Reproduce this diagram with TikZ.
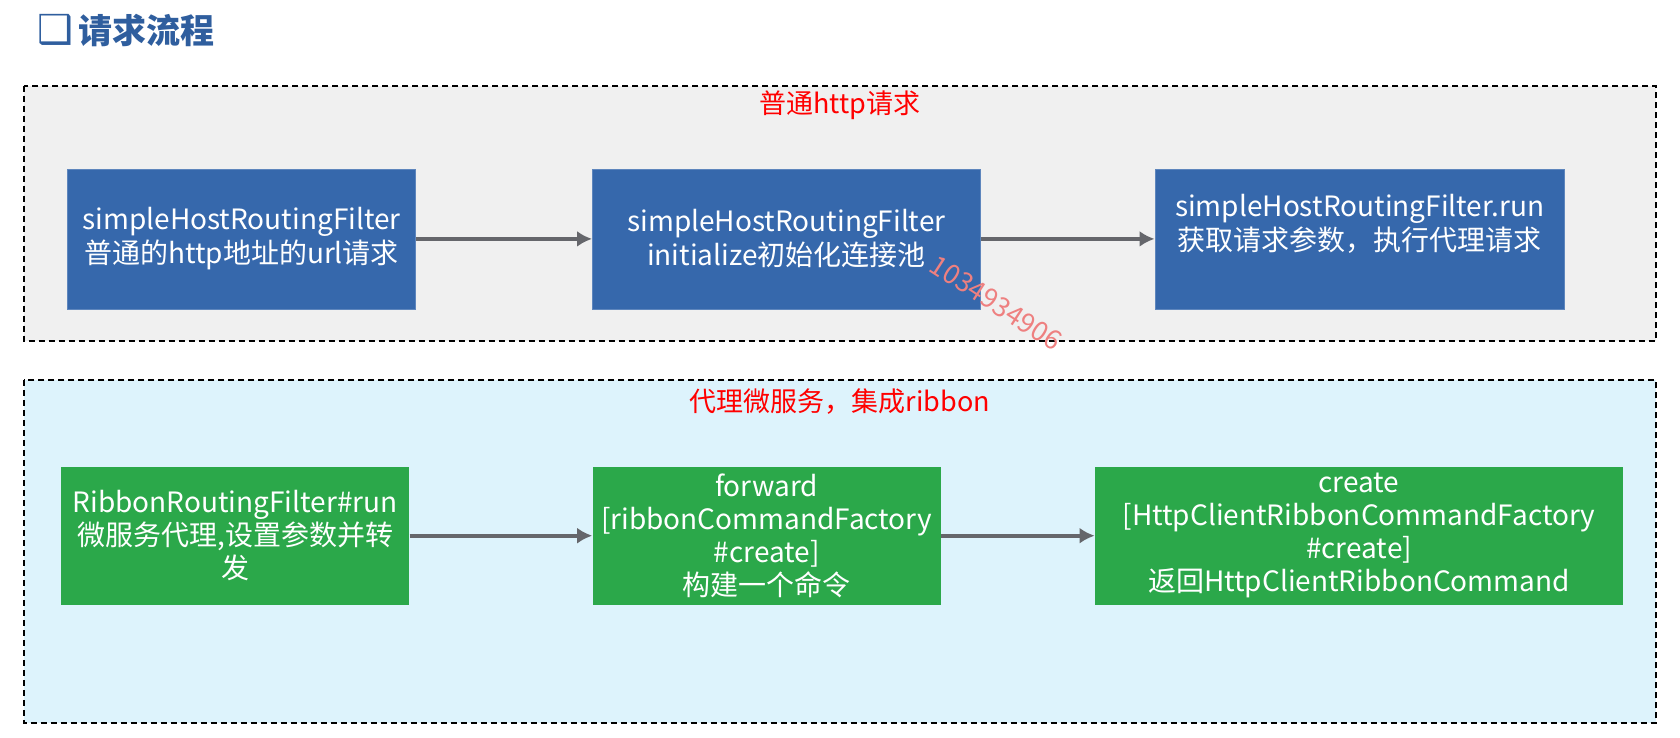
\documentclass[tikz,border=0pt]{standalone}
\usepackage{fontspec}
\setmainfont{Noto Sans CJK SC}
\newfontfamily\symfont{DejaVu Sans}
\usepackage{tikz}
\usetikzlibrary{arrows, arrows.meta, positioning}
\definecolor{boxblue}{HTML}{3668AC}
\definecolor{boxgreen}{HTML}{2BA84A}
\definecolor{titleblue}{HTML}{2F5E9E}
\definecolor{linegray}{HTML}{65666B}
\definecolor{graybg}{HTML}{F0F0F0}
\definecolor{bluebg}{HTML}{DDF3FC}
\definecolor{markred}{HTML}{EE8080}
\tikzstyle{group} = [draw=black, line width=1pt, dash pattern=on 3pt off 2pt]
\tikzstyle{blueblock} = [rectangle, fill=boxblue, draw=boxblue!80!white, text=white, align=center, font=\fontsize{14}{17}\selectfont, minimum height=70pt, inner sep=1pt]
\tikzstyle{greenblock} = [rectangle, fill=boxgreen, text=white, align=center, font=\fontsize{14}{16.5}\selectfont, minimum height=69pt, inner sep=1pt]
\tikzstyle{grouplabel} = [text=red, font=\fontsize{13.5}{15}\selectfont]
\tikzstyle{line} = [draw=linegray, line width=2pt, -{Latex[length=7.5pt, width=8pt]}]

\begin{document}
\begin{tikzpicture}[x=0.5pt, y=-0.5pt]
		\useasboundingbox (0,0) rectangle (1680,738);
		\node (title) [anchor=west, text=titleblue, font=\fontsize{17}{20}\selectfont\bfseries] at (30,30) {{\symfont\fontsize{20}{20}\selectfont ❑}\,请求流程};

		% Groups
		\path [group, fill=graybg] (23.6,85.7) rectangle (1656,340.7);
		\path [group, fill=bluebg] (23.6,380) rectangle (1656,723);
		\node (httplabel) [grouplabel] at (840,105) {普通http请求};
		\node (ribbonlabel) [grouplabel] at (840,402) {代理微服务，集成ribbon};

		% Plain http request
		\node (filter) [blueblock, minimum width=174pt] at (241.6,238.9) {simpleHostRoutingFilter\\普通的http地址的url请求};
		\node (init) [blueblock, right of=filter, node distance=272.4pt, minimum width=194pt] {simpleHostRoutingFilter\\initialize初始化连接池};
		\node (run) [blueblock, right of=init, node distance=286.6pt, minimum width=204.7pt] {simpleHostRoutingFilter.run\\获取请求参数，执行代理请求\\\mbox{}};

		% Ribbon proxy
		\node (ribbon) [greenblock, minimum width=174pt] at (235.2,535.7) {RibbonRoutingFilter\#run\\微服务代理,设置参数并转\\发};
		\node (forward) [greenblock, right of=ribbon, node distance=265.7pt, minimum width=174pt] {forward\\{[}ribbonCommandFactory\\\#create{]}\\构建一个命令};
		\node (create) [greenblock, right of=forward, node distance=296.2pt, minimum width=264pt] {create\\{[}HttpClientRibbonCommandFactory\\\#create{]}\\返回HttpClientRibbonCommand};

		% Draw edges
		\path [line] (filter) -- (init);
		\path [line] (init) -- (run);
		\path [line] (ribbon) -- (forward);
		\path [line] (forward) -- (create);

		\node (mark) [text=markred, rotate=-33, font=\fontsize{13.5}{15}\selectfont] at (996,303) {1034934906};
\end{tikzpicture}
\end{document}
